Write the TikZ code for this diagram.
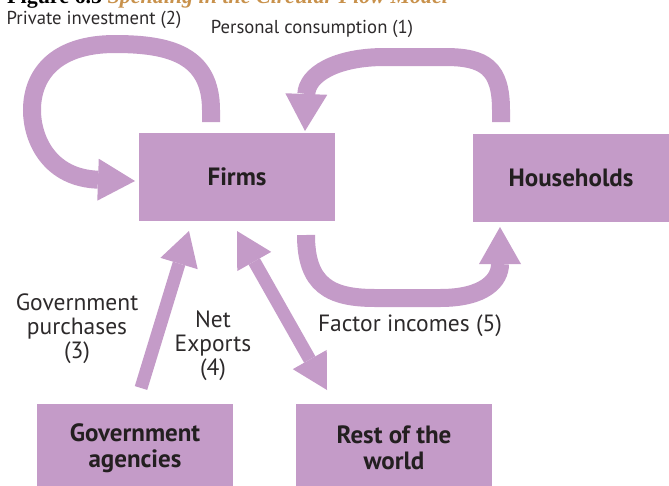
\documentclass[tikz,border=0pt]{standalone}
\usepackage{fontspec}
\setmainfont{PT Sans}
\newfontfamily\titlefont{Liberation Serif}
\usetikzlibrary{arrows.meta}
\definecolor{lav}{RGB}{196,155,200}
\definecolor{ink}{RGB}{35,31,32}
\definecolor{labelink}{RGB}{45,42,43}
\definecolor{titleorange}{RGB}{200,145,75}
\begin{document}
\begin{tikzpicture}[x=1pt,y=-1pt,
  box/.style={rectangle, fill=lav, minimum width=196pt, minimum height=88pt, inner sep=0pt, text=ink, font=\fontsize{25}{26}\selectfont\bfseries, align=center},
  lbl/.style={text=labelink, font=\fontsize{23.5}{24}\selectfont, align=center, inner sep=0pt},
  toplbl/.style={text=labelink, font=\fontsize{18.7}{22}\selectfont, inner sep=0pt},
  band/.style={draw=lav, line width=18pt},
  thinband/.style={draw=lav, line width=13pt},
  bighead/.style={-{Triangle[length=37pt,width=42pt,line width=0pt]}},
  smallhead/.style={-{Triangle[length=34pt,width=39pt,line width=0pt]}},
  twohead/.style={{Triangle[length=35pt,width=39pt,line width=0pt]}-{Triangle[length=35pt,width=39pt,line width=0pt]}}
]
\useasboundingbox (0,0) rectangle (669,485);
\clip (0,0) rectangle (669,485);

% title (cropped at top, as in the reference)
\node[anchor=base west, inner sep=0pt] (title) at (7,3) {\titlefont\fontsize{22}{22}\selectfont\bfseries Figure 6.5 \textcolor{titleorange}{\itshape Spending in the Circular Flow Model}};

% boxes
\node[box] (firms) at (237,177) {Firms};
\node[box] (hh) at (571,177.5) {Households};
\node[box] (gov) at (135,448) {Government\\agencies};
\node[box] (row) at (394,448) {Rest of the\\world};

% connector end points
\coordinate (pis) at (211,122);
\coordinate (pit) at (135,181);
\coordinate (pcs) at (501,122);
\coordinate (pct) at (305,131);
\coordinate (fis) at (306,235);
\coordinate (fit) at (500,227);
\coordinate (gps) at (141,388);
\coordinate (gpt) at (189,231);
\coordinate (nxa) at (237,231);
\coordinate (nxb) at (327,390);

% private investment (2)
\draw[band, bighead] (pis) -- (211,110) .. controls (211,55) and (170,44) .. (115,44)
  .. controls (55,44) and (32,75) .. (32,110) .. controls (32,140) and (50,178) .. (pit);
% personal consumption (1)
\draw[band, bighead] (pcs) -- (501,110) .. controls (501,68) and (485,57) .. (445,57)
  -- (385,57) .. controls (335,57) and (307,75) .. (pct);
% factor incomes (5)
\draw[band, bighead] (fis) .. controls (306,285) and (330,298) .. (375,298)
  -- (440,298) .. controls (485,298) and (500,280) .. (fit);
% government purchases (3)
\draw[thinband, smallhead] (gps) -- (gpt);
% net exports (4)
\draw[thinband, twohead] (nxb) -- (nxa);

% labels
\node[toplbl] (lpi) at (94,20) {Private investment (2)};
\node[toplbl] (lpc) at (312,29) {Personal consumption (1)};
\node[lbl] (lgp) at (77,329) {Government\\purchases\\(3)};
\node[lbl] (lnx) at (213,346) {Net\\Exports\\(4)};
\node[lbl] (lfi) at (410,326) {Factor incomes (5)};
\end{tikzpicture}
\end{document}
